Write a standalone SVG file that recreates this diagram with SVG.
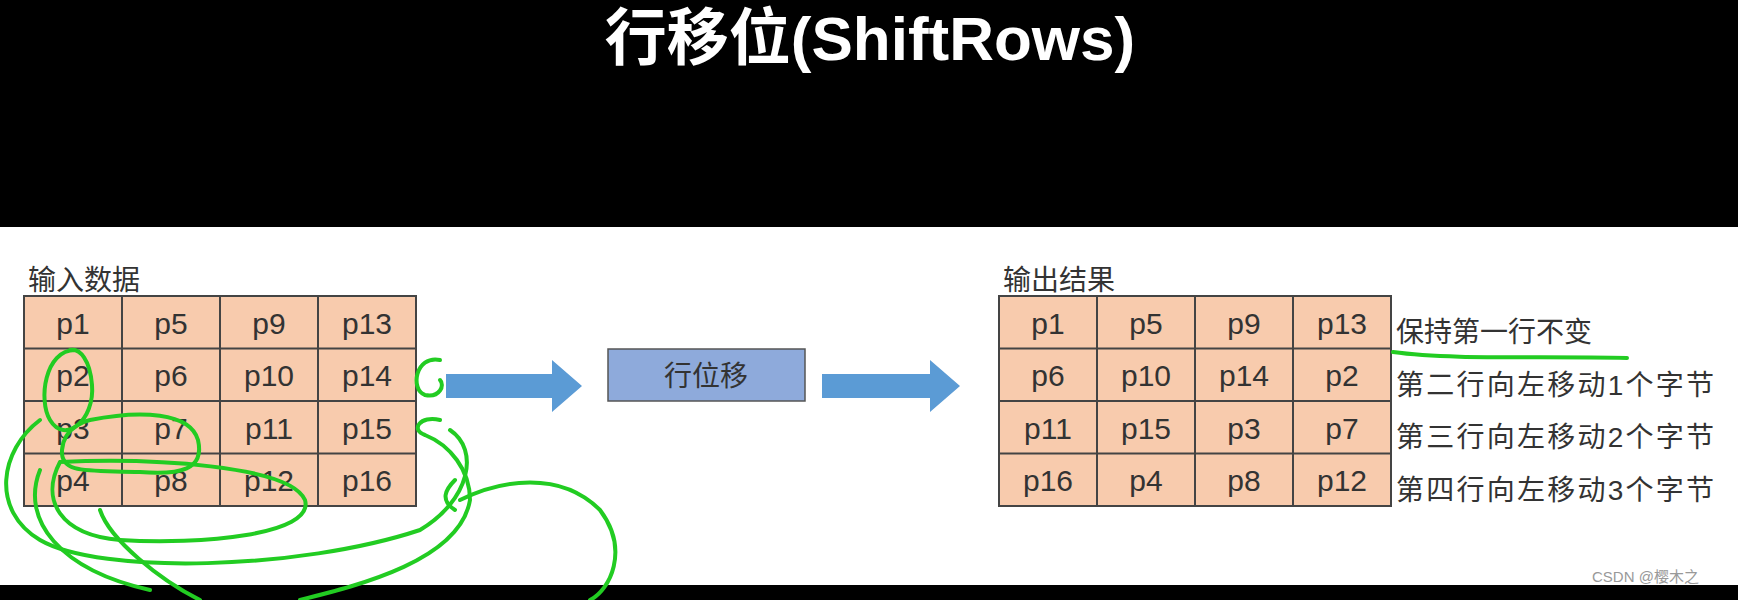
<svg xmlns="http://www.w3.org/2000/svg" width="1738" height="600" viewBox="0 0 1738 600">
<style>
.cell{fill:#f8cbad;stroke:#444;stroke-width:2}
.ct{font-family:"Liberation Sans",sans-serif;font-size:30px;fill:#333;text-anchor:middle}
.lb{font-family:"Liberation Sans","Noto Sans CJK SC",sans-serif;font-size:28px;fill:#333}
.g{fill:none;stroke:#22cc22;stroke-width:4;stroke-linecap:round}
.arr{fill:#5b9bd5}
</style>
<rect width="1738" height="600" fill="#000"/>
<rect x="0" y="227" width="1738" height="358" fill="#fff"/>
<text x="870" y="60" text-anchor="middle" font-family="Liberation Sans,Noto Sans CJK SC,sans-serif" font-weight="bold" font-size="62" fill="#fff">行移位(ShiftRows)</text>
<g id="input">
<text class="lb" x="28" y="290">输入数据</text>
<g transform="translate(24,296)">
<rect class="cell" width="392" height="210"/>
<path d="M98 0V210M196 0V210M294 0V210M0 52.5H392M0 105H392M0 157.5H392" stroke="#444" stroke-width="2"/>
<g class="ct">
<text x="49" y="38">p1</text><text x="147" y="38">p5</text><text x="245" y="38">p9</text><text x="343" y="38">p13</text>
<text x="49" y="90">p2</text><text x="147" y="90">p6</text><text x="245" y="90">p10</text><text x="343" y="90">p14</text>
<text x="49" y="143">p3</text><text x="147" y="143">p7</text><text x="245" y="143">p11</text><text x="343" y="143">p15</text>
<text x="49" y="195">p4</text><text x="147" y="195">p8</text><text x="245" y="195">p12</text><text x="343" y="195">p16</text>
</g></g></g>
<g id="connectors">
<path class="arr" d="M446 374H552V360L582 386L552 412V398H446Z"/>
<path class="arr" d="M822 374H930V360L960 386L930 412V398H822Z"/>
</g>
<g id="process">
<rect x="608" y="349" width="197" height="52" fill="#8eaadb" stroke="#555" stroke-width="1.5"/>
<text class="lb" x="706" y="386" text-anchor="middle" font-size="31">行位移</text>
</g>
<g id="output">
<text class="lb" x="1003" y="290">输出结果</text>
<g transform="translate(999,296)">
<rect class="cell" width="392" height="210"/>
<path d="M98 0V210M196 0V210M294 0V210M0 52.5H392M0 105H392M0 157.5H392" stroke="#444" stroke-width="2"/>
<g class="ct">
<text x="49" y="38">p1</text><text x="147" y="38">p5</text><text x="245" y="38">p9</text><text x="343" y="38">p13</text>
<text x="49" y="90">p6</text><text x="147" y="90">p10</text><text x="245" y="90">p14</text><text x="343" y="90">p2</text>
<text x="49" y="143">p11</text><text x="147" y="143">p15</text><text x="245" y="143">p3</text><text x="343" y="143">p7</text>
<text x="49" y="195">p16</text><text x="147" y="195">p4</text><text x="245" y="195">p8</text><text x="343" y="195">p12</text>
</g></g>
<g class="lb">
<text x="1396" y="342">保持第一行不变</text>
<text x="1396" y="395" textLength="318">第二行向左移动1个字节</text>
<text x="1396" y="447" textLength="318">第三行向左移动2个字节</text>
<text x="1396" y="500" textLength="318">第四行向左移动3个字节</text>
</g></g>
<g id="scribbles">
<path class="g" d="M1393 352C1450 360 1540 356 1627 358"/>
<path class="g" d="M75 350C45 350 38 400 50 420C65 445 95 420 92 385C90 360 80 348 70 350"/>
<path class="g" d="M90 420C140 410 190 412 198 440C205 470 180 475 140 472C90 470 60 475 62 450C64 425 90 420 90 420"/>
<path class="g" d="M60 462C150 458 290 465 305 500C315 535 200 545 120 540C60 535 40 500 60 462"/>
<path class="g" d="M40 420C0 450 -10 510 40 540C100 575 300 570 420 530C470 500 480 450 450 430"/>
<path class="g" d="M40 470C20 520 60 570 150 590"/>
<path class="g" d="M100 510C110 540 160 580 200 600"/>
<path class="g" d="M440 360C415 355 410 390 425 395C440 398 445 385 440 380"/>
<path class="g" d="M440 420C420 415 410 430 425 435C450 445 470 470 470 500C460 560 360 585 300 600"/>
<path class="g" d="M460 500C500 480 560 470 600 510C630 550 610 590 590 600"/>
<path class="g" d="M455 480C445 490 440 500 455 510"/>
</g>
<text x="1592" y="582" font-family="Liberation Sans,Noto Sans CJK SC,sans-serif" font-size="15" fill="#999">CSDN @樱木之</text>
</svg>
